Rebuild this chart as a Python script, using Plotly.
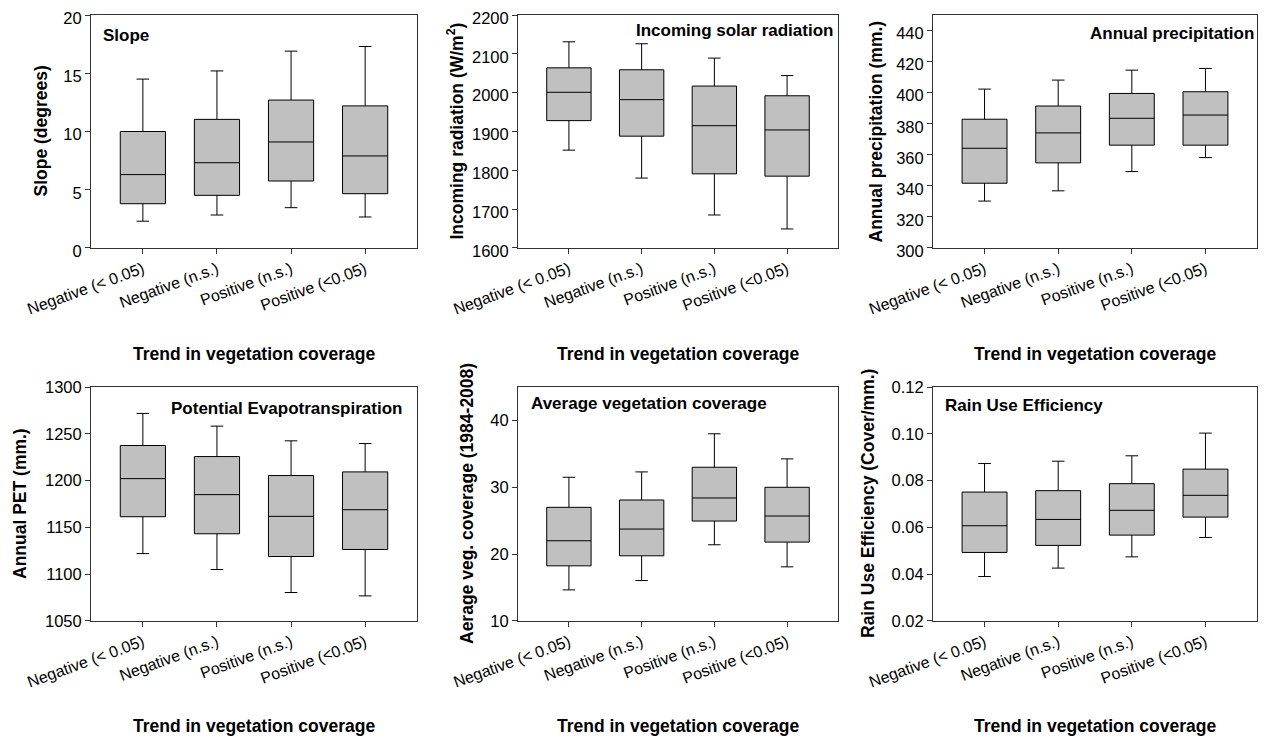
import plotly.graph_objects as go

categories = ["Negative (< 0.05)", "Negative (n.s.)", "Positive (n.s.)", "Positive (<0.05)"]

# Slope (degrees)
slope_low = [2.3, 2.83, 3.46, 2.66]
slope_q1 = [3.8, 4.52, 5.75, 4.66]
slope_med = [6.3, 7.32, 9.1, 7.9]
slope_q3 = [10.0, 11.04, 12.7, 12.2]
slope_high = [14.5, 15.2, 16.9, 17.3]

# Incoming solar radiation
rad_low = [1852, 1780, 1685, 1649]
rad_q1 = [1928, 1888, 1791, 1785]
rad_med = [2001, 1982, 1915, 1904]
rad_q3 = [2064, 2059, 2017, 1992]
rad_high = [2131, 2126, 2089, 2044]

# Annual precipitation
prec_low = [330.2, 336.8, 349.2, 358.2]
prec_q1 = [341.7, 354.8, 366.2, 366.2]
prec_med = [364.2, 374.1, 383.5, 385.6]
prec_q3 = [382.9, 391.4, 399.5, 400.6]
prec_high = [402.3, 408.1, 414.5, 415.6]

# Potential evapotranspiration
pet_low = [1122, 1105, 1080.4, 1076.8]
pet_q1 = [1161.4, 1143.2, 1118.9, 1126.4]
pet_med = [1202.1, 1185, 1161.8, 1168.9]
pet_q3 = [1237.5, 1225.7, 1205.4, 1209.3]
pet_high = [1271.8, 1258.2, 1242.5, 1239.6]

# Average vegetation coverage
veg_low = [14.65, 16.05, 21.4, 18.1]
veg_q1 = [18.25, 19.75, 24.95, 21.8]
veg_med = [22.0, 23.75, 28.4, 25.7]
veg_q3 = [27.0, 28.1, 33.0, 30.0]
veg_high = [31.5, 32.3, 38.0, 34.25]

# Rain use efficiency
rue_low = [0.039, 0.0426, 0.0474, 0.0557]
rue_q1 = [0.0493, 0.0523, 0.0567, 0.0644]
rue_med = [0.0607, 0.0634, 0.0673, 0.0737]
rue_q3 = [0.0751, 0.0757, 0.0787, 0.0849]
rue_high = [0.0873, 0.0883, 0.0906, 0.1003]

panels = [
    dict(low=slope_low, q1=slope_q1, med=slope_med, q3=slope_q3, high=slope_high,
         yrange=[0, 20], dtick=5, tick0=0, fmt=None,
         ytitle="Slope (degrees)", ytx=40,
         title="Slope", tx=101, ty=35, tanchor="left"),
    dict(low=rad_low, q1=rad_q1, med=rad_med, q3=rad_q3, high=rad_high,
         yrange=[1600, 2200], dtick=100, tick0=1600, fmt=None,
         ytitle="Incoming radiation (W/m<sup>2</sup>)", ytx=455,
         title="Incoming solar radiation", tx=835, ty=31, tanchor="right"),
    dict(low=prec_low, q1=prec_q1, med=prec_med, q3=prec_q3, high=prec_high,
         yrange=[300, 450], dtick=20, tick0=300, fmt=None,
         ytitle="Annual precipitation (mm.)", ytx=875,
         title="Annual precipitation", tx=1256, ty=33, tanchor="right"),
    dict(low=pet_low, q1=pet_q1, med=pet_med, q3=pet_q3, high=pet_high,
         yrange=[1050, 1300], dtick=50, tick0=1050, fmt=None,
         ytitle="Annual PET (mm.)", ytx=20,
         title="Potential Evapotranspiration", tx=404, ty=408, tanchor="right"),
    dict(low=veg_low, q1=veg_q1, med=veg_med, q3=veg_q3, high=veg_high,
         yrange=[10, 45], dtick=10, tick0=10, fmt=None,
         ytitle="Aerage veg. coverage (1984-2008)", ytx=467,
         title="Average vegetation coverage", tx=529, ty=403, tanchor="left"),
    dict(low=rue_low, q1=rue_q1, med=rue_med, q3=rue_q3, high=rue_high,
         yrange=[0.02, 0.12], dtick=0.02, tick0=0.02, fmt=".2f",
         ytitle="Rain Use Efficiency (Cover/mm.)", ytx=868,
         title="Rain Use Efficiency", tx=943, ty=405, tanchor="left"),
]

# page body has an 8px margin; work in window pixels and convert
OFF = 8
W, H = 1268 - OFF, 742 - OFF
cols_px = [(91, 417), (518, 838), (933, 1257)]
rows_px = [(15, 248), (387, 621)]
xtitle_y = [354, 726]
label_shift = [3, 0]


def fx(px):
    return (px - OFF) / W


def fy(py):
    return 1 - (py - OFF) / H


FONT = "Arial, Liberation Sans, sans-serif"

fig = go.Figure()
layout = dict(
    width=W, height=H, margin=dict(l=0, r=0, t=0, b=0, autoexpand=False),
    plot_bgcolor="white", paper_bgcolor="white",
    showlegend=False, font=dict(family=FONT, color="black"),
)
annotations = []

for i, p in enumerate(panels):
    r, c = divmod(i, 3)
    n = i + 1
    xa = "x" if n == 1 else f"x{n}"
    ya = "y" if n == 1 else f"y{n}"
    fig.add_trace(go.Box(
        x=categories, q1=p["q1"], median=p["med"], q3=p["q3"],
        lowerfence=p["low"], upperfence=p["high"],
        fillcolor="#c0c0c0", line=dict(color="black", width=1),
        width=0.61, whiskerwidth=0.28, boxpoints=False,
        xaxis=xa, yaxis=ya, hoverinfo="skip",
    ))
    x0, x1 = cols_px[c]
    y0, y1 = rows_px[r]
    xd = [fx(x0), fx(x1)]
    yd = [fy(y1), fy(y0)]
    kx = "xaxis" if n == 1 else f"xaxis{n}"
    ky = "yaxis" if n == 1 else f"yaxis{n}"
    layout[kx] = dict(
        domain=xd, anchor=ya, type="category", categoryorder="array",
        categoryarray=categories, range=[-0.7, 3.7], automargin=False,
        showline=True, linecolor="#333333", linewidth=1, mirror=True,
        ticks="outside", ticklen=5, tickcolor="#333333",
        tickangle=-20, tickfont=dict(size=16, family=FONT, color="black"),
        ticklabeloverflow="allow",
        showgrid=False, zeroline=False, fixedrange=True,
    )
    lo, hi = p["yrange"]
    eps = (hi - lo) * 1e-4
    yax = dict(
        domain=yd, anchor=xa, range=[lo - eps, hi + eps], dtick=p["dtick"], tick0=p["tick0"],
        automargin=False, ticklabeloverflow="allow", ticklabelshift=label_shift[r],
        showline=True, linecolor="#333333", linewidth=1, mirror=True,
        ticks="outside", ticklen=5, tickcolor="#333333",
        tickfont=dict(size=16.5, family=FONT, color="black"),
        showgrid=False, zeroline=False, fixedrange=True,
    )
    if p["fmt"]:
        yax["tickformat"] = p["fmt"]
    layout[ky] = yax

    # y-axis title
    annotations.append(dict(
        xref="paper", yref="paper", x=fx(p["ytx"]), y=fy((y0 + y1) / 2),
        text=f"<b>{p['ytitle']}</b>", textangle=-90, showarrow=False,
        xanchor="center", yanchor="middle",
        font=dict(size=17.5, family=FONT, color="black"),
    ))
    # x-axis title
    annotations.append(dict(
        xref="paper", yref="paper", x=fx((x0 + x1) / 2), y=fy(xtitle_y[r]),
        text="<b>Trend in vegetation coverage</b>", showarrow=False,
        xanchor="center", yanchor="middle",
        font=dict(size=17.5, family=FONT, color="black"),
    ))
    # panel title
    annotations.append(dict(
        xref="paper", yref="paper", x=fx(p["tx"]), y=fy(p["ty"]),
        text=f"<b>{p['title']}</b>", showarrow=False,
        xanchor=p["tanchor"], yanchor="middle",
        font=dict(size=17, family=FONT, color="black"),
    ))

layout["annotations"] = annotations
fig.update_layout(**layout)
fig.write_html("out.html")
